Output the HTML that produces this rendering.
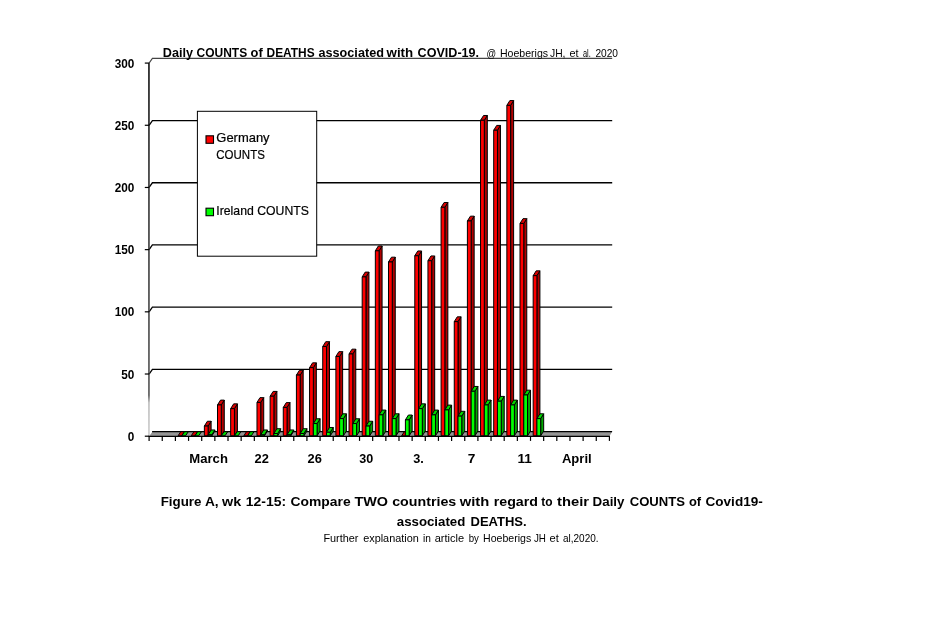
<!DOCTYPE html>
<html><head><meta charset="utf-8"><title>Figure A</title>
<style>
html,body{margin:0;padding:0;background:#fff;}
body{width:925px;height:631px;overflow:hidden;font-family:"Liberation Sans",sans-serif;}
svg{display:block;will-change:transform;font-family:"Liberation Sans",sans-serif;fill:#000;}
</style></head><body>
<svg width="925" height="631" viewBox="0 0 925 631">
<polyline points="149.1,374.01 152.4,369.31 612.2,369.31" fill="none" stroke="#000" stroke-width="1.3"/>
<polyline points="149.1,311.83 152.4,307.13 612.2,307.13" fill="none" stroke="#000" stroke-width="1.3"/>
<polyline points="149.1,249.64 152.4,244.94 612.2,244.94" fill="none" stroke="#000" stroke-width="1.3"/>
<polyline points="149.1,187.46 152.4,182.76 612.2,182.76" fill="none" stroke="#000" stroke-width="1.3"/>
<polyline points="149.1,125.27 152.4,120.57 612.2,120.57" fill="none" stroke="#000" stroke-width="1.3"/>
<polyline points="149.1,63.09 152.4,58.39 612.2,58.39" fill="none" stroke="#444" stroke-width="1.1"/>
<polygon points="149.1,436.3 609.42,436.3 612.12,431.8 152.4,431.8" fill="#969696" stroke="none" stroke-width="1.0" stroke-linejoin="round"/>
<line x1="152.1" y1="431.6" x2="612.12" y2="431.6" stroke="#000" stroke-width="1.3"/>
<polygon points="178.05,435.8 181.81,435.8 184.51,431.7 180.75,431.7" fill="#d80000" stroke="#000" stroke-width="1.0" stroke-linejoin="round"/>
<polygon points="181.81,435.8 185.57,435.8 188.27,431.7 184.51,431.7" fill="#00d800" stroke="#000" stroke-width="1.0" stroke-linejoin="round"/>
<polygon points="191.21,435.8 194.97,435.8 197.67,431.7 193.91,431.7" fill="#d80000" stroke="#000" stroke-width="1.0" stroke-linejoin="round"/>
<polygon points="194.97,435.8 198.73,435.8 201.43,431.7 197.67,431.7" fill="#00d800" stroke="#000" stroke-width="1.0" stroke-linejoin="round"/>
<polygon points="208.12,435.8 211.12,431 211.12,421.26 208.12,426.06" fill="#b00000" stroke="#000" stroke-width="1.0" stroke-linejoin="round"/>
<polygon points="204.36,426.06 208.12,426.06 211.12,421.26 207.36,421.26" fill="#d80000" stroke="#000" stroke-width="1.0" stroke-linejoin="round"/>
<polygon points="204.36,435.8 208.12,435.8 208.12,426.06 204.36,426.06" fill="#ff0000" stroke="#000" stroke-width="1.0" stroke-linejoin="round"/>
<polygon points="211.88,435.8 214.88,431 214.88,429.96 211.88,434.76" fill="#00a800" stroke="#000" stroke-width="1.0" stroke-linejoin="round"/>
<polygon points="208.12,434.76 211.88,434.76 214.88,429.96 211.12,429.96" fill="#00d800" stroke="#000" stroke-width="1.0" stroke-linejoin="round"/>
<polygon points="208.12,435.8 211.88,435.8 211.88,434.76 208.12,434.76" fill="#00ff00" stroke="#000" stroke-width="1.0" stroke-linejoin="round"/>
<polygon points="221.27,435.8 224.27,431 224.27,400.12 221.27,404.93" fill="#b00000" stroke="#000" stroke-width="1.0" stroke-linejoin="round"/>
<polygon points="217.51,404.93 221.27,404.93 224.27,400.12 220.51,400.12" fill="#d80000" stroke="#000" stroke-width="1.0" stroke-linejoin="round"/>
<polygon points="217.51,435.8 221.27,435.8 221.27,404.93 217.51,404.93" fill="#ff0000" stroke="#000" stroke-width="1.0" stroke-linejoin="round"/>
<polygon points="221.27,435.8 225.03,435.8 227.73,431.7 223.97,431.7" fill="#00d800" stroke="#000" stroke-width="1.0" stroke-linejoin="round"/>
<polygon points="234.42,435.8 237.42,431 237.42,403.85 234.42,408.65" fill="#b00000" stroke="#000" stroke-width="1.0" stroke-linejoin="round"/>
<polygon points="230.66,408.65 234.42,408.65 237.42,403.85 233.66,403.85" fill="#d80000" stroke="#000" stroke-width="1.0" stroke-linejoin="round"/>
<polygon points="230.66,435.8 234.42,435.8 234.42,408.65 230.66,408.65" fill="#ff0000" stroke="#000" stroke-width="1.0" stroke-linejoin="round"/>
<polygon points="234.42,435.8 238.18,435.8 240.88,431.7 237.12,431.7" fill="#00d800" stroke="#000" stroke-width="1.0" stroke-linejoin="round"/>
<polygon points="243.81,435.8 247.57,435.8 250.27,431.7 246.51,431.7" fill="#d80000" stroke="#000" stroke-width="1.0" stroke-linejoin="round"/>
<polygon points="247.57,435.8 251.33,435.8 254.03,431.7 250.27,431.7" fill="#00d800" stroke="#000" stroke-width="1.0" stroke-linejoin="round"/>
<polygon points="260.73,435.8 263.73,431 263.73,397.64 260.73,402.44" fill="#b00000" stroke="#000" stroke-width="1.0" stroke-linejoin="round"/>
<polygon points="256.97,402.44 260.73,402.44 263.73,397.64 259.97,397.64" fill="#d80000" stroke="#000" stroke-width="1.0" stroke-linejoin="round"/>
<polygon points="256.97,435.8 260.73,435.8 260.73,402.44 256.97,402.44" fill="#ff0000" stroke="#000" stroke-width="1.0" stroke-linejoin="round"/>
<polygon points="264.49,435.8 267.49,431 267.49,429.96 264.49,434.76" fill="#00a800" stroke="#000" stroke-width="1.0" stroke-linejoin="round"/>
<polygon points="260.73,434.76 264.49,434.76 267.49,429.96 263.73,429.96" fill="#00d800" stroke="#000" stroke-width="1.0" stroke-linejoin="round"/>
<polygon points="260.73,435.8 264.49,435.8 264.49,434.76 260.73,434.76" fill="#00ff00" stroke="#000" stroke-width="1.0" stroke-linejoin="round"/>
<polygon points="273.88,435.8 276.88,431 276.88,391.42 273.88,396.22" fill="#b00000" stroke="#000" stroke-width="1.0" stroke-linejoin="round"/>
<polygon points="270.12,396.22 273.88,396.22 276.88,391.42 273.12,391.42" fill="#d80000" stroke="#000" stroke-width="1.0" stroke-linejoin="round"/>
<polygon points="270.12,435.8 273.88,435.8 273.88,396.22 270.12,396.22" fill="#ff0000" stroke="#000" stroke-width="1.0" stroke-linejoin="round"/>
<polygon points="277.64,435.8 280.64,431 280.64,428.71 277.64,433.51" fill="#00a800" stroke="#000" stroke-width="1.0" stroke-linejoin="round"/>
<polygon points="273.88,433.51 277.64,433.51 280.64,428.71 276.88,428.71" fill="#00d800" stroke="#000" stroke-width="1.0" stroke-linejoin="round"/>
<polygon points="273.88,435.8 277.64,435.8 277.64,433.51 273.88,433.51" fill="#00ff00" stroke="#000" stroke-width="1.0" stroke-linejoin="round"/>
<polygon points="287.03,435.8 290.03,431 290.03,402.61 287.03,407.41" fill="#b00000" stroke="#000" stroke-width="1.0" stroke-linejoin="round"/>
<polygon points="283.27,407.41 287.03,407.41 290.03,402.61 286.27,402.61" fill="#d80000" stroke="#000" stroke-width="1.0" stroke-linejoin="round"/>
<polygon points="283.27,435.8 287.03,435.8 287.03,407.41 283.27,407.41" fill="#ff0000" stroke="#000" stroke-width="1.0" stroke-linejoin="round"/>
<polygon points="290.79,435.8 293.79,431 293.79,429.96 290.79,434.76" fill="#00a800" stroke="#000" stroke-width="1.0" stroke-linejoin="round"/>
<polygon points="287.03,434.76 290.79,434.76 293.79,429.96 290.03,429.96" fill="#00d800" stroke="#000" stroke-width="1.0" stroke-linejoin="round"/>
<polygon points="287.03,435.8 290.79,435.8 290.79,434.76 287.03,434.76" fill="#00ff00" stroke="#000" stroke-width="1.0" stroke-linejoin="round"/>
<polygon points="300.18,435.8 303.18,431 303.18,370.29 300.18,375.09" fill="#b00000" stroke="#000" stroke-width="1.0" stroke-linejoin="round"/>
<polygon points="296.42,375.09 300.18,375.09 303.18,370.29 299.42,370.29" fill="#d80000" stroke="#000" stroke-width="1.0" stroke-linejoin="round"/>
<polygon points="296.42,435.8 300.18,435.8 300.18,375.09 296.42,375.09" fill="#ff0000" stroke="#000" stroke-width="1.0" stroke-linejoin="round"/>
<polygon points="303.94,435.8 306.94,431 306.94,428.71 303.94,433.51" fill="#00a800" stroke="#000" stroke-width="1.0" stroke-linejoin="round"/>
<polygon points="300.18,433.51 303.94,433.51 306.94,428.71 303.18,428.71" fill="#00d800" stroke="#000" stroke-width="1.0" stroke-linejoin="round"/>
<polygon points="300.18,435.8 303.94,435.8 303.94,433.51 300.18,433.51" fill="#00ff00" stroke="#000" stroke-width="1.0" stroke-linejoin="round"/>
<polygon points="313.33,435.8 316.33,431 316.33,362.83 313.33,367.63" fill="#b00000" stroke="#000" stroke-width="1.0" stroke-linejoin="round"/>
<polygon points="309.57,367.63 313.33,367.63 316.33,362.83 312.57,362.83" fill="#d80000" stroke="#000" stroke-width="1.0" stroke-linejoin="round"/>
<polygon points="309.57,435.8 313.33,435.8 313.33,367.63 309.57,367.63" fill="#ff0000" stroke="#000" stroke-width="1.0" stroke-linejoin="round"/>
<polygon points="317.09,435.8 320.09,431 320.09,418.77 317.09,423.57" fill="#00a800" stroke="#000" stroke-width="1.0" stroke-linejoin="round"/>
<polygon points="313.33,423.57 317.09,423.57 320.09,418.77 316.33,418.77" fill="#00d800" stroke="#000" stroke-width="1.0" stroke-linejoin="round"/>
<polygon points="313.33,435.8 317.09,435.8 317.09,423.57 313.33,423.57" fill="#00ff00" stroke="#000" stroke-width="1.0" stroke-linejoin="round"/>
<polygon points="326.49,435.8 329.49,431 329.49,341.7 326.49,346.5" fill="#b00000" stroke="#000" stroke-width="1.0" stroke-linejoin="round"/>
<polygon points="322.73,346.5 326.49,346.5 329.49,341.7 325.73,341.7" fill="#d80000" stroke="#000" stroke-width="1.0" stroke-linejoin="round"/>
<polygon points="322.73,435.8 326.49,435.8 326.49,346.5 322.73,346.5" fill="#ff0000" stroke="#000" stroke-width="1.0" stroke-linejoin="round"/>
<polygon points="330.25,435.8 333.25,431 333.25,427.47 330.25,432.27" fill="#00a800" stroke="#000" stroke-width="1.0" stroke-linejoin="round"/>
<polygon points="326.49,432.27 330.25,432.27 333.25,427.47 329.49,427.47" fill="#00d800" stroke="#000" stroke-width="1.0" stroke-linejoin="round"/>
<polygon points="326.49,435.8 330.25,435.8 330.25,432.27 326.49,432.27" fill="#00ff00" stroke="#000" stroke-width="1.0" stroke-linejoin="round"/>
<polygon points="339.64,435.8 342.64,431 342.64,351.65 339.64,356.45" fill="#b00000" stroke="#000" stroke-width="1.0" stroke-linejoin="round"/>
<polygon points="335.88,356.45 339.64,356.45 342.64,351.65 338.88,351.65" fill="#d80000" stroke="#000" stroke-width="1.0" stroke-linejoin="round"/>
<polygon points="335.88,435.8 339.64,435.8 339.64,356.45 335.88,356.45" fill="#ff0000" stroke="#000" stroke-width="1.0" stroke-linejoin="round"/>
<polygon points="343.4,435.8 346.4,431 346.4,413.8 343.4,418.6" fill="#00a800" stroke="#000" stroke-width="1.0" stroke-linejoin="round"/>
<polygon points="339.64,418.6 343.4,418.6 346.4,413.8 342.64,413.8" fill="#00d800" stroke="#000" stroke-width="1.0" stroke-linejoin="round"/>
<polygon points="339.64,435.8 343.4,435.8 343.4,418.6 339.64,418.6" fill="#00ff00" stroke="#000" stroke-width="1.0" stroke-linejoin="round"/>
<polygon points="352.79,435.8 355.79,431 355.79,349.16 352.79,353.96" fill="#b00000" stroke="#000" stroke-width="1.0" stroke-linejoin="round"/>
<polygon points="349.03,353.96 352.79,353.96 355.79,349.16 352.03,349.16" fill="#d80000" stroke="#000" stroke-width="1.0" stroke-linejoin="round"/>
<polygon points="349.03,435.8 352.79,435.8 352.79,353.96 349.03,353.96" fill="#ff0000" stroke="#000" stroke-width="1.0" stroke-linejoin="round"/>
<polygon points="356.55,435.8 359.55,431 359.55,418.77 356.55,423.57" fill="#00a800" stroke="#000" stroke-width="1.0" stroke-linejoin="round"/>
<polygon points="352.79,423.57 356.55,423.57 359.55,418.77 355.79,418.77" fill="#00d800" stroke="#000" stroke-width="1.0" stroke-linejoin="round"/>
<polygon points="352.79,435.8 356.55,435.8 356.55,423.57 352.79,423.57" fill="#00ff00" stroke="#000" stroke-width="1.0" stroke-linejoin="round"/>
<polygon points="365.94,435.8 368.94,431 368.94,272.1 365.94,276.9" fill="#b00000" stroke="#000" stroke-width="1.0" stroke-linejoin="round"/>
<polygon points="362.18,276.9 365.94,276.9 368.94,272.1 365.18,272.1" fill="#d80000" stroke="#000" stroke-width="1.0" stroke-linejoin="round"/>
<polygon points="362.18,435.8 365.94,435.8 365.94,276.9 362.18,276.9" fill="#ff0000" stroke="#000" stroke-width="1.0" stroke-linejoin="round"/>
<polygon points="369.7,435.8 372.7,431 372.7,421.26 369.7,426.06" fill="#00a800" stroke="#000" stroke-width="1.0" stroke-linejoin="round"/>
<polygon points="365.94,426.06 369.7,426.06 372.7,421.26 368.94,421.26" fill="#00d800" stroke="#000" stroke-width="1.0" stroke-linejoin="round"/>
<polygon points="365.94,435.8 369.7,435.8 369.7,426.06 365.94,426.06" fill="#00ff00" stroke="#000" stroke-width="1.0" stroke-linejoin="round"/>
<polygon points="379.09,435.8 382.09,431 382.09,245.99 379.09,250.79" fill="#b00000" stroke="#000" stroke-width="1.0" stroke-linejoin="round"/>
<polygon points="375.33,250.79 379.09,250.79 382.09,245.99 378.33,245.99" fill="#d80000" stroke="#000" stroke-width="1.0" stroke-linejoin="round"/>
<polygon points="375.33,435.8 379.09,435.8 379.09,250.79 375.33,250.79" fill="#ff0000" stroke="#000" stroke-width="1.0" stroke-linejoin="round"/>
<polygon points="382.85,435.8 385.85,431 385.85,410.07 382.85,414.87" fill="#00a800" stroke="#000" stroke-width="1.0" stroke-linejoin="round"/>
<polygon points="379.09,414.87 382.85,414.87 385.85,410.07 382.09,410.07" fill="#00d800" stroke="#000" stroke-width="1.0" stroke-linejoin="round"/>
<polygon points="379.09,435.8 382.85,435.8 382.85,414.87 379.09,414.87" fill="#00ff00" stroke="#000" stroke-width="1.0" stroke-linejoin="round"/>
<polygon points="392.25,435.8 395.25,431 395.25,257.18 392.25,261.98" fill="#b00000" stroke="#000" stroke-width="1.0" stroke-linejoin="round"/>
<polygon points="388.49,261.98 392.25,261.98 395.25,257.18 391.49,257.18" fill="#d80000" stroke="#000" stroke-width="1.0" stroke-linejoin="round"/>
<polygon points="388.49,435.8 392.25,435.8 392.25,261.98 388.49,261.98" fill="#ff0000" stroke="#000" stroke-width="1.0" stroke-linejoin="round"/>
<polygon points="396.01,435.8 399.01,431 399.01,413.8 396.01,418.6" fill="#00a800" stroke="#000" stroke-width="1.0" stroke-linejoin="round"/>
<polygon points="392.25,418.6 396.01,418.6 399.01,413.8 395.25,413.8" fill="#00d800" stroke="#000" stroke-width="1.0" stroke-linejoin="round"/>
<polygon points="392.25,435.8 396.01,435.8 396.01,418.6 392.25,418.6" fill="#00ff00" stroke="#000" stroke-width="1.0" stroke-linejoin="round"/>
<polygon points="401.64,435.8 405.4,435.8 408.1,431.7 404.34,431.7" fill="#d80000" stroke="#000" stroke-width="1.0" stroke-linejoin="round"/>
<polygon points="409.16,435.8 412.16,431 412.16,415.04 409.16,419.84" fill="#00a800" stroke="#000" stroke-width="1.0" stroke-linejoin="round"/>
<polygon points="405.4,419.84 409.16,419.84 412.16,415.04 408.4,415.04" fill="#00d800" stroke="#000" stroke-width="1.0" stroke-linejoin="round"/>
<polygon points="405.4,435.8 409.16,435.8 409.16,419.84 405.4,419.84" fill="#00ff00" stroke="#000" stroke-width="1.0" stroke-linejoin="round"/>
<polygon points="418.55,435.8 421.55,431 421.55,250.96 418.55,255.76" fill="#b00000" stroke="#000" stroke-width="1.0" stroke-linejoin="round"/>
<polygon points="414.79,255.76 418.55,255.76 421.55,250.96 417.79,250.96" fill="#d80000" stroke="#000" stroke-width="1.0" stroke-linejoin="round"/>
<polygon points="414.79,435.8 418.55,435.8 418.55,255.76 414.79,255.76" fill="#ff0000" stroke="#000" stroke-width="1.0" stroke-linejoin="round"/>
<polygon points="422.31,435.8 425.31,431 425.31,403.85 422.31,408.65" fill="#00a800" stroke="#000" stroke-width="1.0" stroke-linejoin="round"/>
<polygon points="418.55,408.65 422.31,408.65 425.31,403.85 421.55,403.85" fill="#00d800" stroke="#000" stroke-width="1.0" stroke-linejoin="round"/>
<polygon points="418.55,435.8 422.31,435.8 422.31,408.65 418.55,408.65" fill="#00ff00" stroke="#000" stroke-width="1.0" stroke-linejoin="round"/>
<polygon points="431.7,435.8 434.7,431 434.7,255.94 431.7,260.74" fill="#b00000" stroke="#000" stroke-width="1.0" stroke-linejoin="round"/>
<polygon points="427.94,260.74 431.7,260.74 434.7,255.94 430.94,255.94" fill="#d80000" stroke="#000" stroke-width="1.0" stroke-linejoin="round"/>
<polygon points="427.94,435.8 431.7,435.8 431.7,260.74 427.94,260.74" fill="#ff0000" stroke="#000" stroke-width="1.0" stroke-linejoin="round"/>
<polygon points="435.46,435.8 438.46,431 438.46,410.07 435.46,414.87" fill="#00a800" stroke="#000" stroke-width="1.0" stroke-linejoin="round"/>
<polygon points="431.7,414.87 435.46,414.87 438.46,410.07 434.7,410.07" fill="#00d800" stroke="#000" stroke-width="1.0" stroke-linejoin="round"/>
<polygon points="431.7,435.8 435.46,435.8 435.46,414.87 431.7,414.87" fill="#00ff00" stroke="#000" stroke-width="1.0" stroke-linejoin="round"/>
<polygon points="444.85,435.8 447.85,431 447.85,202.49 444.85,207.29" fill="#b00000" stroke="#000" stroke-width="1.0" stroke-linejoin="round"/>
<polygon points="441.09,207.29 444.85,207.29 447.85,202.49 444.09,202.49" fill="#d80000" stroke="#000" stroke-width="1.0" stroke-linejoin="round"/>
<polygon points="441.09,435.8 444.85,435.8 444.85,207.29 441.09,207.29" fill="#ff0000" stroke="#000" stroke-width="1.0" stroke-linejoin="round"/>
<polygon points="448.61,435.8 451.61,431 451.61,405.1 448.61,409.9" fill="#00a800" stroke="#000" stroke-width="1.0" stroke-linejoin="round"/>
<polygon points="444.85,409.9 448.61,409.9 451.61,405.1 447.85,405.1" fill="#00d800" stroke="#000" stroke-width="1.0" stroke-linejoin="round"/>
<polygon points="444.85,435.8 448.61,435.8 448.61,409.9 444.85,409.9" fill="#00ff00" stroke="#000" stroke-width="1.0" stroke-linejoin="round"/>
<polygon points="458.01,435.8 461.01,431 461.01,316.84 458.01,321.64" fill="#b00000" stroke="#000" stroke-width="1.0" stroke-linejoin="round"/>
<polygon points="454.25,321.64 458.01,321.64 461.01,316.84 457.25,316.84" fill="#d80000" stroke="#000" stroke-width="1.0" stroke-linejoin="round"/>
<polygon points="454.25,435.8 458.01,435.8 458.01,321.64 454.25,321.64" fill="#ff0000" stroke="#000" stroke-width="1.0" stroke-linejoin="round"/>
<polygon points="461.77,435.8 464.77,431 464.77,411.31 461.77,416.11" fill="#00a800" stroke="#000" stroke-width="1.0" stroke-linejoin="round"/>
<polygon points="458.01,416.11 461.77,416.11 464.77,411.31 461.01,411.31" fill="#00d800" stroke="#000" stroke-width="1.0" stroke-linejoin="round"/>
<polygon points="458.01,435.8 461.77,435.8 461.77,416.11 458.01,416.11" fill="#00ff00" stroke="#000" stroke-width="1.0" stroke-linejoin="round"/>
<polygon points="471.16,435.8 474.16,431 474.16,216.16 471.16,220.96" fill="#b00000" stroke="#000" stroke-width="1.0" stroke-linejoin="round"/>
<polygon points="467.4,220.96 471.16,220.96 474.16,216.16 470.4,216.16" fill="#d80000" stroke="#000" stroke-width="1.0" stroke-linejoin="round"/>
<polygon points="467.4,435.8 471.16,435.8 471.16,220.96 467.4,220.96" fill="#ff0000" stroke="#000" stroke-width="1.0" stroke-linejoin="round"/>
<polygon points="474.92,435.8 477.92,431 477.92,386.45 474.92,391.25" fill="#00a800" stroke="#000" stroke-width="1.0" stroke-linejoin="round"/>
<polygon points="471.16,391.25 474.92,391.25 477.92,386.45 474.16,386.45" fill="#00d800" stroke="#000" stroke-width="1.0" stroke-linejoin="round"/>
<polygon points="471.16,435.8 474.92,435.8 474.92,391.25 471.16,391.25" fill="#00ff00" stroke="#000" stroke-width="1.0" stroke-linejoin="round"/>
<polygon points="484.31,435.8 487.31,431 487.31,115.48 484.31,120.28" fill="#b00000" stroke="#000" stroke-width="1.0" stroke-linejoin="round"/>
<polygon points="480.55,120.28 484.31,120.28 487.31,115.48 483.55,115.48" fill="#d80000" stroke="#000" stroke-width="1.0" stroke-linejoin="round"/>
<polygon points="480.55,435.8 484.31,435.8 484.31,120.28 480.55,120.28" fill="#ff0000" stroke="#000" stroke-width="1.0" stroke-linejoin="round"/>
<polygon points="488.07,435.8 491.07,431 491.07,400.12 488.07,404.93" fill="#00a800" stroke="#000" stroke-width="1.0" stroke-linejoin="round"/>
<polygon points="484.31,404.93 488.07,404.93 491.07,400.12 487.31,400.12" fill="#00d800" stroke="#000" stroke-width="1.0" stroke-linejoin="round"/>
<polygon points="484.31,435.8 488.07,435.8 488.07,404.93 484.31,404.93" fill="#00ff00" stroke="#000" stroke-width="1.0" stroke-linejoin="round"/>
<polygon points="497.46,435.8 500.46,431 500.46,125.42 497.46,130.22" fill="#b00000" stroke="#000" stroke-width="1.0" stroke-linejoin="round"/>
<polygon points="493.7,130.22 497.46,130.22 500.46,125.42 496.7,125.42" fill="#d80000" stroke="#000" stroke-width="1.0" stroke-linejoin="round"/>
<polygon points="493.7,435.8 497.46,435.8 497.46,130.22 493.7,130.22" fill="#ff0000" stroke="#000" stroke-width="1.0" stroke-linejoin="round"/>
<polygon points="501.22,435.8 504.22,431 504.22,396.4 501.22,401.2" fill="#00a800" stroke="#000" stroke-width="1.0" stroke-linejoin="round"/>
<polygon points="497.46,401.2 501.22,401.2 504.22,396.4 500.46,396.4" fill="#00d800" stroke="#000" stroke-width="1.0" stroke-linejoin="round"/>
<polygon points="497.46,435.8 501.22,435.8 501.22,401.2 497.46,401.2" fill="#00ff00" stroke="#000" stroke-width="1.0" stroke-linejoin="round"/>
<polygon points="510.61,435.8 513.61,431 513.61,100.56 510.61,105.36" fill="#b00000" stroke="#000" stroke-width="1.0" stroke-linejoin="round"/>
<polygon points="506.85,105.36 510.61,105.36 513.61,100.56 509.85,100.56" fill="#d80000" stroke="#000" stroke-width="1.0" stroke-linejoin="round"/>
<polygon points="506.85,435.8 510.61,435.8 510.61,105.36 506.85,105.36" fill="#ff0000" stroke="#000" stroke-width="1.0" stroke-linejoin="round"/>
<polygon points="514.37,435.8 517.37,431 517.37,400.12 514.37,404.93" fill="#00a800" stroke="#000" stroke-width="1.0" stroke-linejoin="round"/>
<polygon points="510.61,404.93 514.37,404.93 517.37,400.12 513.61,400.12" fill="#00d800" stroke="#000" stroke-width="1.0" stroke-linejoin="round"/>
<polygon points="510.61,435.8 514.37,435.8 514.37,404.93 510.61,404.93" fill="#00ff00" stroke="#000" stroke-width="1.0" stroke-linejoin="round"/>
<polygon points="523.77,435.8 526.77,431 526.77,218.65 523.77,223.45" fill="#b00000" stroke="#000" stroke-width="1.0" stroke-linejoin="round"/>
<polygon points="520.01,223.45 523.77,223.45 526.77,218.65 523.01,218.65" fill="#d80000" stroke="#000" stroke-width="1.0" stroke-linejoin="round"/>
<polygon points="520.01,435.8 523.77,435.8 523.77,223.45 520.01,223.45" fill="#ff0000" stroke="#000" stroke-width="1.0" stroke-linejoin="round"/>
<polygon points="527.53,435.8 530.53,431 530.53,390.18 527.53,394.98" fill="#00a800" stroke="#000" stroke-width="1.0" stroke-linejoin="round"/>
<polygon points="523.77,394.98 527.53,394.98 530.53,390.18 526.77,390.18" fill="#00d800" stroke="#000" stroke-width="1.0" stroke-linejoin="round"/>
<polygon points="523.77,435.8 527.53,435.8 527.53,394.98 523.77,394.98" fill="#00ff00" stroke="#000" stroke-width="1.0" stroke-linejoin="round"/>
<polygon points="536.92,435.8 539.92,431 539.92,270.85 536.92,275.65" fill="#b00000" stroke="#000" stroke-width="1.0" stroke-linejoin="round"/>
<polygon points="533.16,275.65 536.92,275.65 539.92,270.85 536.16,270.85" fill="#d80000" stroke="#000" stroke-width="1.0" stroke-linejoin="round"/>
<polygon points="533.16,435.8 536.92,435.8 536.92,275.65 533.16,275.65" fill="#ff0000" stroke="#000" stroke-width="1.0" stroke-linejoin="round"/>
<polygon points="540.68,435.8 543.68,431 543.68,413.8 540.68,418.6" fill="#00a800" stroke="#000" stroke-width="1.0" stroke-linejoin="round"/>
<polygon points="536.92,418.6 540.68,418.6 543.68,413.8 539.92,413.8" fill="#00d800" stroke="#000" stroke-width="1.0" stroke-linejoin="round"/>
<polygon points="536.92,435.8 540.68,435.8 540.68,418.6 536.92,418.6" fill="#00ff00" stroke="#000" stroke-width="1.0" stroke-linejoin="round"/>
<defs><linearGradient id="ax" x1="0" y1="0" x2="0" y2="1"><stop offset="0" stop-color="#000"/><stop offset="0.3" stop-color="#222"/><stop offset="0.89" stop-color="#484848"/><stop offset="0.91" stop-color="#b8b8b8"/><stop offset="1" stop-color="#c8c8c8"/></linearGradient></defs>
<rect x="148.2" y="63.09" width="1.5" height="373.21" fill="url(#ax)"/>
<line x1="148.6" y1="436.3" x2="609.92" y2="436.3" stroke="#000" stroke-width="1.3"/>
<line x1="149.1" y1="436.3" x2="149.1" y2="440.9" stroke="#000" stroke-width="1.2"/>
<line x1="162.25" y1="436.3" x2="162.25" y2="440.9" stroke="#000" stroke-width="1.2"/>
<line x1="175.4" y1="436.3" x2="175.4" y2="440.9" stroke="#000" stroke-width="1.2"/>
<line x1="188.56" y1="436.3" x2="188.56" y2="440.9" stroke="#000" stroke-width="1.2"/>
<line x1="201.71" y1="436.3" x2="201.71" y2="440.9" stroke="#000" stroke-width="1.2"/>
<line x1="214.86" y1="436.3" x2="214.86" y2="440.9" stroke="#000" stroke-width="1.2"/>
<line x1="228.01" y1="436.3" x2="228.01" y2="440.9" stroke="#000" stroke-width="1.2"/>
<line x1="241.16" y1="436.3" x2="241.16" y2="440.9" stroke="#000" stroke-width="1.2"/>
<line x1="254.32" y1="436.3" x2="254.32" y2="440.9" stroke="#000" stroke-width="1.2"/>
<line x1="267.47" y1="436.3" x2="267.47" y2="440.9" stroke="#000" stroke-width="1.2"/>
<line x1="280.62" y1="436.3" x2="280.62" y2="440.9" stroke="#000" stroke-width="1.2"/>
<line x1="293.77" y1="436.3" x2="293.77" y2="440.9" stroke="#000" stroke-width="1.2"/>
<line x1="306.92" y1="436.3" x2="306.92" y2="440.9" stroke="#000" stroke-width="1.2"/>
<line x1="320.08" y1="436.3" x2="320.08" y2="440.9" stroke="#000" stroke-width="1.2"/>
<line x1="333.23" y1="436.3" x2="333.23" y2="440.9" stroke="#000" stroke-width="1.2"/>
<line x1="346.38" y1="436.3" x2="346.38" y2="440.9" stroke="#000" stroke-width="1.2"/>
<line x1="359.53" y1="436.3" x2="359.53" y2="440.9" stroke="#000" stroke-width="1.2"/>
<line x1="372.68" y1="436.3" x2="372.68" y2="440.9" stroke="#000" stroke-width="1.2"/>
<line x1="385.84" y1="436.3" x2="385.84" y2="440.9" stroke="#000" stroke-width="1.2"/>
<line x1="398.99" y1="436.3" x2="398.99" y2="440.9" stroke="#000" stroke-width="1.2"/>
<line x1="412.14" y1="436.3" x2="412.14" y2="440.9" stroke="#000" stroke-width="1.2"/>
<line x1="425.29" y1="436.3" x2="425.29" y2="440.9" stroke="#000" stroke-width="1.2"/>
<line x1="438.44" y1="436.3" x2="438.44" y2="440.9" stroke="#000" stroke-width="1.2"/>
<line x1="451.6" y1="436.3" x2="451.6" y2="440.9" stroke="#000" stroke-width="1.2"/>
<line x1="464.75" y1="436.3" x2="464.75" y2="440.9" stroke="#000" stroke-width="1.2"/>
<line x1="477.9" y1="436.3" x2="477.9" y2="440.9" stroke="#000" stroke-width="1.2"/>
<line x1="491.05" y1="436.3" x2="491.05" y2="440.9" stroke="#000" stroke-width="1.2"/>
<line x1="504.2" y1="436.3" x2="504.2" y2="440.9" stroke="#000" stroke-width="1.2"/>
<line x1="517.36" y1="436.3" x2="517.36" y2="440.9" stroke="#000" stroke-width="1.2"/>
<line x1="530.51" y1="436.3" x2="530.51" y2="440.9" stroke="#000" stroke-width="1.2"/>
<line x1="543.66" y1="436.3" x2="543.66" y2="440.9" stroke="#000" stroke-width="1.2"/>
<line x1="556.81" y1="436.3" x2="556.81" y2="440.9" stroke="#000" stroke-width="1.2"/>
<line x1="569.96" y1="436.3" x2="569.96" y2="440.9" stroke="#000" stroke-width="1.2"/>
<line x1="583.12" y1="436.3" x2="583.12" y2="440.9" stroke="#000" stroke-width="1.2"/>
<line x1="596.27" y1="436.3" x2="596.27" y2="440.9" stroke="#000" stroke-width="1.2"/>
<line x1="609.42" y1="436.3" x2="609.42" y2="440.9" stroke="#000" stroke-width="1.2"/>
<line x1="144.8" y1="436.2" x2="149.1" y2="436.2" stroke="#000" stroke-width="1.2"/>
<line x1="144.8" y1="374.01" x2="149.1" y2="374.01" stroke="#000" stroke-width="1.2"/>
<line x1="144.8" y1="311.83" x2="149.1" y2="311.83" stroke="#000" stroke-width="1.2"/>
<line x1="144.8" y1="249.64" x2="149.1" y2="249.64" stroke="#000" stroke-width="1.2"/>
<line x1="144.8" y1="187.46" x2="149.1" y2="187.46" stroke="#000" stroke-width="1.2"/>
<line x1="144.8" y1="125.27" x2="149.1" y2="125.27" stroke="#000" stroke-width="1.2"/>
<line x1="144.8" y1="63.09" x2="149.1" y2="63.09" stroke="#000" stroke-width="1.2"/>
<rect x="197.4" y="111.3" width="119.3" height="144.9" fill="#fff" stroke="#000" stroke-width="1"/>
<rect x="206" y="135.8" width="7.5" height="7.5" fill="#ff0000" stroke="#000" stroke-width="1.1"/>
<rect x="206" y="208.2" width="7.5" height="7.5" fill="#00ff00" stroke="#000" stroke-width="1.1"/>
<text x="162.8" y="56.6" font-size="12.5" font-weight="bold" textLength="30.2" lengthAdjust="spacingAndGlyphs">Daily</text>
<text x="196.5" y="56.6" font-size="12.5" font-weight="bold" textLength="50.63" lengthAdjust="spacingAndGlyphs">COUNTS</text>
<text x="250.5" y="56.6" font-size="12.5" font-weight="bold" textLength="12.19" lengthAdjust="spacingAndGlyphs">of</text>
<text x="266.6" y="56.6" font-size="12.5" font-weight="bold" textLength="48.03" lengthAdjust="spacingAndGlyphs">DEATHS</text>
<text x="318.5" y="56.6" font-size="12.5" font-weight="bold" textLength="65.4" lengthAdjust="spacingAndGlyphs">associated</text>
<text x="386.57" y="56.6" font-size="12.5" font-weight="bold" textLength="26.63" lengthAdjust="spacingAndGlyphs">with</text>
<text x="417.6" y="56.6" font-size="12.5" font-weight="bold" textLength="61.5" lengthAdjust="spacingAndGlyphs">COVID-19.</text>
<text x="486.4" y="56.5" font-size="10.3" textLength="9.6" lengthAdjust="spacingAndGlyphs">@</text>
<text x="499.9" y="56.5" font-size="10.3" textLength="48.18" lengthAdjust="spacingAndGlyphs">Hoeberigs</text>
<text x="550" y="56.5" font-size="10.3" textLength="15.5" lengthAdjust="spacingAndGlyphs">JH,</text>
<text x="569.4" y="56.5" font-size="10.3" textLength="9.09" lengthAdjust="spacingAndGlyphs">et</text>
<text x="582.9" y="56.5" font-size="10.3" textLength="7.81" lengthAdjust="spacingAndGlyphs">al.</text>
<text x="595.4" y="56.5" font-size="10.3" textLength="22.6" lengthAdjust="spacingAndGlyphs">2020</text>
<text x="134.4" y="440.7" font-size="12" font-weight="bold" text-anchor="end" textLength="6.55" lengthAdjust="spacingAndGlyphs">0</text>
<text x="134.4" y="378.51" font-size="12" font-weight="bold" text-anchor="end" textLength="13.1" lengthAdjust="spacingAndGlyphs">50</text>
<text x="134.4" y="316.33" font-size="12" font-weight="bold" text-anchor="end" textLength="19.65" lengthAdjust="spacingAndGlyphs">100</text>
<text x="134.4" y="254.14" font-size="12" font-weight="bold" text-anchor="end" textLength="19.65" lengthAdjust="spacingAndGlyphs">150</text>
<text x="134.4" y="191.96" font-size="12" font-weight="bold" text-anchor="end" textLength="19.65" lengthAdjust="spacingAndGlyphs">200</text>
<text x="134.4" y="129.77" font-size="12" font-weight="bold" text-anchor="end" textLength="19.65" lengthAdjust="spacingAndGlyphs">250</text>
<text x="134.4" y="67.59" font-size="12" font-weight="bold" text-anchor="end" textLength="19.65" lengthAdjust="spacingAndGlyphs">300</text>
<text x="189.3" y="463.1" font-size="12.3" font-weight="bold" textLength="38.6" lengthAdjust="spacingAndGlyphs">March</text>
<text x="254.6" y="463.1" font-size="12.3" font-weight="bold" textLength="14.3" lengthAdjust="spacingAndGlyphs">22</text>
<text x="307.5" y="463.1" font-size="12.3" font-weight="bold" textLength="14.3" lengthAdjust="spacingAndGlyphs">26</text>
<text x="359.2" y="463.1" font-size="12.3" font-weight="bold" textLength="14" lengthAdjust="spacingAndGlyphs">30</text>
<text x="413.2" y="463.1" font-size="12.3" font-weight="bold" textLength="10.6" lengthAdjust="spacingAndGlyphs">3.</text>
<text x="467.8" y="463.1" font-size="12.3" font-weight="bold" textLength="7.6" lengthAdjust="spacingAndGlyphs">7</text>
<text x="517.4" y="463.1" font-size="12.3" font-weight="bold" textLength="14.4" lengthAdjust="spacingAndGlyphs">11</text>
<text x="561.9" y="463.1" font-size="12.3" font-weight="bold" textLength="29.8" lengthAdjust="spacingAndGlyphs">April</text>
<text x="216.3" y="142.3" font-size="12.4" textLength="53.3" lengthAdjust="spacingAndGlyphs" stroke="#000" stroke-width="0.2">Germany</text>
<text x="216.3" y="158.7" font-size="12.4" textLength="48.6" lengthAdjust="spacingAndGlyphs" stroke="#000" stroke-width="0.2">COUNTS</text>
<text x="216.3" y="215" font-size="12.4" textLength="92.6" lengthAdjust="spacingAndGlyphs" stroke="#000" stroke-width="0.2">Ireland COUNTS</text>
<text x="160.7" y="505.8" font-size="13.7" font-weight="bold" textLength="40.81" lengthAdjust="spacingAndGlyphs">Figure</text>
<text x="204.9" y="505.8" font-size="13.7" font-weight="bold" textLength="13.7" lengthAdjust="spacingAndGlyphs">A,</text>
<text x="222.07" y="505.8" font-size="13.7" font-weight="bold" textLength="19.14" lengthAdjust="spacingAndGlyphs">wk</text>
<text x="245.8" y="505.8" font-size="13.7" font-weight="bold" textLength="40.41" lengthAdjust="spacingAndGlyphs">12-15:</text>
<text x="290.5" y="505.8" font-size="13.7" font-weight="bold" textLength="60.09" lengthAdjust="spacingAndGlyphs">Compare</text>
<text x="354.5" y="505.8" font-size="13.7" font-weight="bold" textLength="33.56" lengthAdjust="spacingAndGlyphs">TWO</text>
<text x="392.2" y="505.8" font-size="13.7" font-weight="bold" textLength="64.02" lengthAdjust="spacingAndGlyphs">countries</text>
<text x="459.67" y="505.8" font-size="13.7" font-weight="bold" textLength="29.52" lengthAdjust="spacingAndGlyphs">with</text>
<text x="493.7" y="505.8" font-size="13.7" font-weight="bold" textLength="44.33" lengthAdjust="spacingAndGlyphs">regard</text>
<text x="541.3" y="505.8" font-size="13.7" font-weight="bold" textLength="11.29" lengthAdjust="spacingAndGlyphs">to</text>
<text x="557" y="505.8" font-size="13.7" font-weight="bold" textLength="32.03" lengthAdjust="spacingAndGlyphs">their</text>
<text x="592.6" y="505.8" font-size="13.7" font-weight="bold" textLength="31.9" lengthAdjust="spacingAndGlyphs">Daily</text>
<text x="629.7" y="505.8" font-size="13.7" font-weight="bold" textLength="55.33" lengthAdjust="spacingAndGlyphs">COUNTS</text>
<text x="688.9" y="505.8" font-size="13.7" font-weight="bold" textLength="12.19" lengthAdjust="spacingAndGlyphs">of</text>
<text x="705.5" y="505.8" font-size="13.7" font-weight="bold" textLength="57.28" lengthAdjust="spacingAndGlyphs">Covid19-</text>
<text x="396.8" y="525.7" font-size="13.7" font-weight="bold" textLength="68.49" lengthAdjust="spacingAndGlyphs">associated</text>
<text x="470.5" y="525.7" font-size="13.7" font-weight="bold" textLength="56.1" lengthAdjust="spacingAndGlyphs">DEATHS.</text>
<text x="323.4" y="541.8" font-size="10.4" textLength="35.08" lengthAdjust="spacingAndGlyphs">Further</text>
<text x="363.2" y="541.8" font-size="10.4" textLength="55.6" lengthAdjust="spacingAndGlyphs">explanation</text>
<text x="422.9" y="541.8" font-size="10.4" textLength="7.88" lengthAdjust="spacingAndGlyphs">in</text>
<text x="434.7" y="541.8" font-size="10.4" textLength="29.47" lengthAdjust="spacingAndGlyphs">article</text>
<text x="468.7" y="541.8" font-size="10.4" textLength="10.21" lengthAdjust="spacingAndGlyphs">by</text>
<text x="483" y="541.8" font-size="10.4" textLength="48.18" lengthAdjust="spacingAndGlyphs">Hoeberigs</text>
<text x="533.9" y="541.8" font-size="10.4" textLength="12.02" lengthAdjust="spacingAndGlyphs">JH</text>
<text x="549.6" y="541.8" font-size="10.4" textLength="9.29" lengthAdjust="spacingAndGlyphs">et</text>
<text x="563" y="541.8" font-size="10.4" textLength="35.59" lengthAdjust="spacingAndGlyphs">al,2020.</text>
</svg>
</body></html>
